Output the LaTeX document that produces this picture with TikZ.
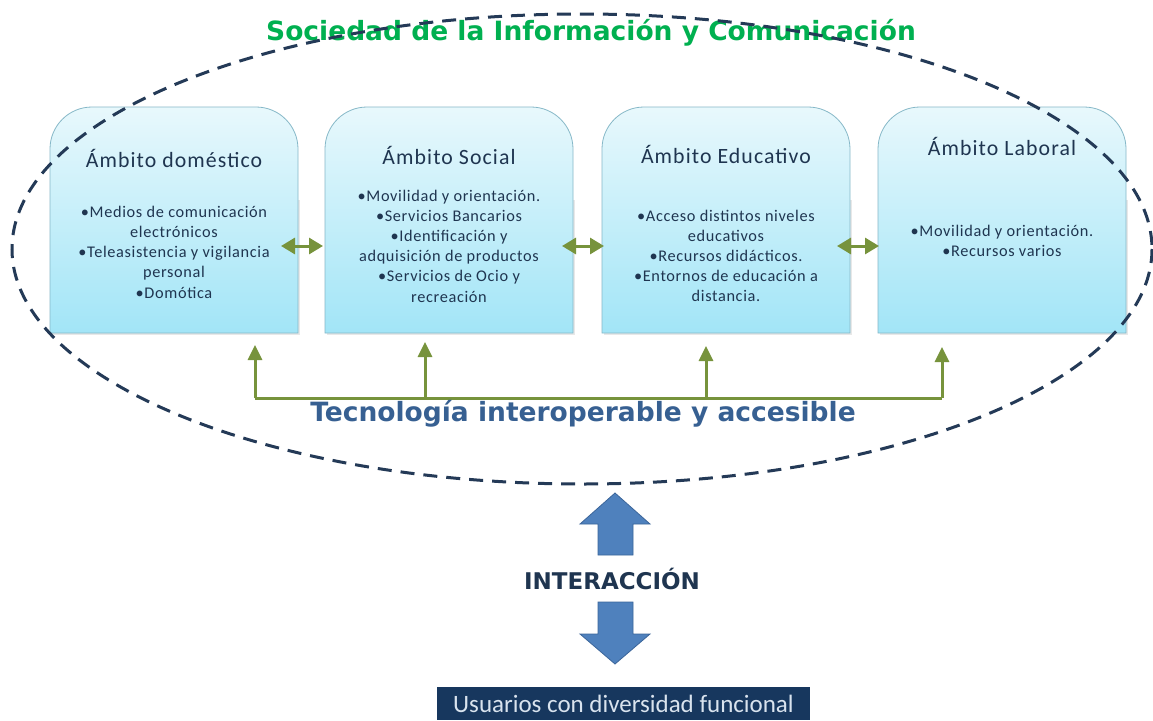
\documentclass[tikz,border=0pt]{standalone}
\usepackage{fontspec}
\setmainfont{Carlito}
\newfontfamily\dejab{DejaVu Sans}
\newfontfamily\carlt[LetterSpace=5]{Carlito}
\newfontfamily\carlb[LetterSpace=4]{Carlito}
\usetikzlibrary{arrows.meta}
\definecolor{navy}{HTML}{1F3550}
\definecolor{dashc}{HTML}{243A57}
\definecolor{grn}{HTML}{77933C}
\definecolor{titlegreen}{HTML}{00B050}
\definecolor{tecblue}{HTML}{376092}
\definecolor{boxtop}{HTML}{E8F8FC}
\definecolor{boxbot}{HTML}{A2E5F7}
\definecolor{boxedge}{HTML}{86B8C8}
\definecolor{barrow}{HTML}{4F81BD}
\definecolor{barrowedge}{HTML}{3B659A}
\definecolor{userbox}{HTML}{17375E}
\definecolor{usertext}{HTML}{D9E3EE}
\newcommand\ambbox[2]{%
  \fill[gray!18] (#1+2,335) -- (#1+2,200) -- (#1+250,200) -- (#1+250,335) -- cycle;
  \draw[boxedge, line width=0.8pt, top color=boxtop, bottom color=boxbot]
    (#1,333) -- (#1,200) [rounded corners=42pt] -- (#1,107) -- (#1+248,107) -- (#1+248,200) [sharp corners] -- (#1+248,333) -- cycle;
  \node[inner sep=0pt, minimum width=248pt, minimum height=226pt] (#2) at (#1+124,220) {};
}
\begin{document}
\begin{tikzpicture}[x=1pt,y=-1pt,
  title/.style={text=navy, font=\carlt\fontsize{21.8}{24}\selectfont},
  bul/.style={text=navy, align=center, font=\carlb\fontsize{16.3}{20.2}\selectfont},
  garrow/.style={grn, line width=3pt, -{Triangle[length=15pt,width=14pt]}},
  gdouble/.style={grn, line width=3pt, {Triangle[length=14pt,width=16pt]}-{Triangle[length=14pt,width=16pt]}},
  gline/.style={grn, line width=3pt},
  blockarrow/.style={fill=barrow, draw=barrowedge, line width=0.8pt}]
\useasboundingbox (0,0) rectangle (1153,720);
\fill[white] (0,0) rectangle (1153,720);

\ambbox{50}{b1}
\ambbox{325}{b2}
\ambbox{602}{b3}
\ambbox{878}{b4}

\node[title] (t1) at (174,158) {Ámbito doméstico};
\node[title] (t2) at (449,155) {Ámbito Social};
\node[title] (t3) at (726,154) {Ámbito Educativo};
\node[title] (t4) at (1002,146) {Ámbito Laboral};

\node[bul] (l1) at (174,252) {•Medios de comunicación\\electrónicos\\•Teleasistencia y vigilancia\\personal\\•Domótica};
\node[bul] (l2) at (449,246) {•Movilidad y orientación.\\•Servicios Bancarios\\•Identificación y\\adquisición de productos\\•Servicios de Ocio y\\recreación};
\node[bul] (l3) at (726,256) {•Acceso distintos niveles\\educativos\\•Recursos didácticos.\\•Entornos de educación a\\distancia.};
\node[bul] (l4) at (1002,241) {•Movilidad y orientación.\\•Recursos varios};

% double arrows between boxes
\coordinate (d1a) at (281,246); \coordinate (d1b) at (323,246);
\coordinate (d2a) at (562,246); \coordinate (d2b) at (604,246);
\coordinate (d3a) at (837,246); \coordinate (d3b) at (879,246);
\draw[gdouble] (d1a) -- (d1b);
\draw[gdouble] (d2a) -- (d2b);
\draw[gdouble] (d3a) -- (d3b);

% technology bar
\coordinate (h1) at (255,398); \coordinate (h2) at (425,398);
\coordinate (h3) at (706,398); \coordinate (h4) at (942,398);
\coordinate (u1) at (255,345); \coordinate (u2) at (425,342);
\coordinate (u3) at (706,346); \coordinate (u4) at (942,347);
\draw[gline] (h1) -- (h4);
\draw[garrow] (h1) -- (u1);
\draw[garrow] (h2) -- (u2);
\draw[garrow] (h3) -- (u3);
\draw[garrow] (h4) -- (u4);

\node[text=tecblue, font=\dejab\bfseries\fontsize{26.5}{30}\selectfont] (tec) at (583,414) {Tecnología interoperable y accesible};
\node[text=titlegreen, font=\dejab\bfseries\fontsize{26.5}{30}\selectfont] (soc) at (591,33) {Sociedad de la Información y Comunicación};

% dashed ellipse
\draw[dashc, line width=3pt, dash pattern=on 14pt off 9pt] (582,249) ellipse [x radius=570, y radius=235];

% interaction arrows
\draw[blockarrow] (598,555) -- (598,524) -- (580,524) -- (615,493) -- (650,524) -- (633,524) -- (633,555) -- cycle;
\draw[blockarrow] (598,602) -- (633,602) -- (633,634) -- (650,634) -- (615,664) -- (580,634) -- (598,634) -- cycle;
\node[text=navy, font=\dejab\bfseries\fontsize{23}{26}\selectfont] (int) at (612,579) {INTERACCIÓN};

\node[fill=userbox, text=usertext, minimum width=373pt, minimum height=33pt, inner sep=0pt, font=\fontsize{25}{28}\selectfont] (usr) at (623.5,703.5) {Usuarios con diversidad funcional};
\end{tikzpicture}
\end{document}
